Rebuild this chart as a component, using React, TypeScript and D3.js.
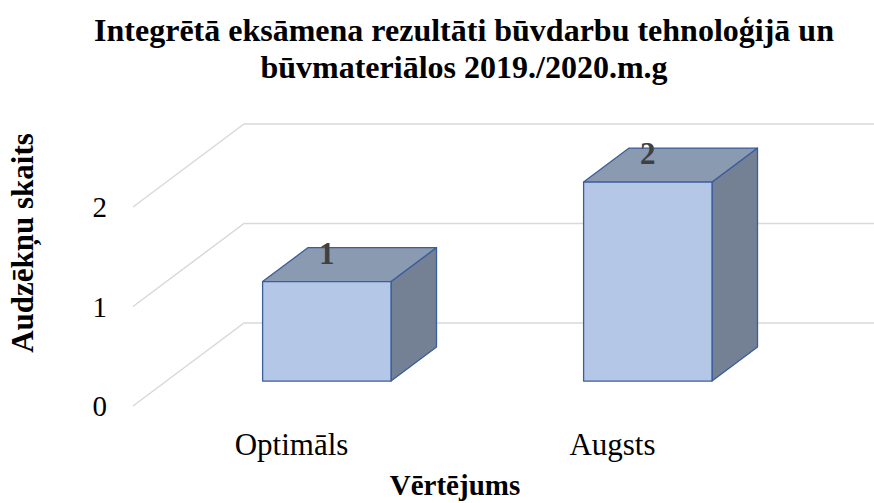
import React from "react";
import * as d3 from "d3";

const title = ["Integrētā eksāmena rezultāti būvdarbu tehnoloģijā un", "būvmateriālos 2019./2020.m.g"];
const categories = ["Optimāls", "Augsts"];
const values = [1, 2];
const yTicks = [0, 1, 2];
const xTitle = "Vērtējums";
const yTitle = "Audzēkņu skaits";

const W = 874;
const H = 503;
const font = "'Liberation Serif', 'Times New Roman', serif";

// front edge of the floor and the depth vector of the 3D box
const floorY = 406;
const depthX = 111;
const depthY = -83;

const x = d3.scaleBand<string>().domain(categories).range([133, 775]).padding(0);
const y = d3.scaleLinear().domain([0, 2]).range([0, 199]);
const depth = d3.scaleLinear().domain([0, 1]).range([0, 1]);

const proj = (px: number, v: number, d: number): [number, number] => [
  px + depth(d) * depthX,
  floorY - y(v) + depth(d) * depthY,
];

const pts = (arr: [number, number][]) => arr.map((p) => p.join(",")).join(" ");

const barFrac = 0.4;
const d0 = 0.3;
const d1 = 0.71;

export default function App() {
  return (
    <svg width={W} height={H} style={{ position: "absolute", left: 0, top: 0, background: "#fff" }}>
      <text x={464} textAnchor="middle" fontFamily={font} fontWeight="bold" fontSize={32}>
        <tspan x={464} y={41}>{title[0]}</tspan>
        <tspan x={464} y={78}>{title[1]}</tspan>
      </text>

      {/* gridlines: side wall diagonal + back wall */}
      {yTicks.map((t) => {
        const a = proj(133, t, 0);
        const b = proj(133, t, 1);
        const c = proj(W + 20, t, 1);
        return (
          <polyline key={t} points={pts([a, b, [c[0] - depthX, c[1]]])} fill="none" stroke="#d9d9d9" strokeWidth={1.5} />
        );
      })}

      {yTicks.map((t) => (
        <text key={"t" + t} x={107} y={floorY - y(t) + 10} textAnchor="end" fontFamily={font} fontSize={29} fill="#000">
          {t}
        </text>
      ))}

      {categories.map((c, i) => {
        const cx = (x(c) as number) + x.bandwidth() / 2;
        const bw = x.bandwidth() * barFrac;
        const l = cx - bw / 2;
        const r = cx + bw / 2;
        const v = values[i];
        const front = [proj(l, 0, d0), proj(r, 0, d0), proj(r, v, d0), proj(l, v, d0)] as [number, number][];
        const top = [proj(l, v, d0), proj(r, v, d0), proj(r, v, d1), proj(l, v, d1)] as [number, number][];
        const side = [proj(r, 0, d0), proj(r, 0, d1), proj(r, v, d1), proj(r, v, d0)] as [number, number][];
        const lab = proj(cx, v, (d0 + d1) / 2);
        const fc = proj(cx, v, d0);
        return (
          <g key={c}>
            <polygon points={pts(side)} fill="#748094" stroke="#3a5d9c" strokeWidth={1.3} strokeLinejoin="round" />
            <polygon points={pts(top)} fill="#8a9ab0" stroke="#3a5d9c" strokeWidth={1.3} strokeLinejoin="round" />
            <polygon points={pts(front)} fill="#b4c7e7" stroke="#3a5d9c" strokeWidth={1.3} strokeLinejoin="round" />
            <text x={fc[0]} y={lab[1] - 1} textAnchor="middle" fontFamily={font} fontWeight="bold" fontSize={31} fill="#404040">
              {v}
            </text>
            <text x={cx - 2} y={455} textAnchor="middle" fontFamily={font} fontSize={31} fill="#000">
              {c}
            </text>
          </g>
        );
      })}

      <text x={455} y={495} textAnchor="middle" fontFamily={font} fontWeight="bold" fontSize={29}>
        {xTitle}
      </text>
      <text
        transform="translate(33,243) rotate(-90)"
        textAnchor="middle"
        fontFamily={font}
        fontWeight="bold"
        fontSize={31}
      >
        {yTitle}
      </text>
    </svg>
  );
}
